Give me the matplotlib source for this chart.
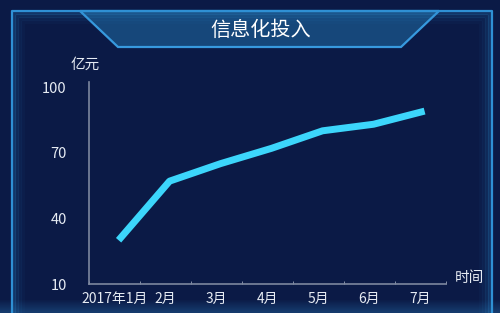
import numpy as np
import matplotlib.pyplot as plt
from matplotlib.patches import Polygon, Rectangle

plt.rcParams['font.family'] = ['Noto Sans CJK SC', 'DejaVu Sans']

# data
months = ['2017年1月', '2月', '3月', '4月', '5月', '6月', '7月']
invest = [30, 57, 65, 72, 80, 83, 89]
y_ticks = [10, 40, 70, 100]

bg = '#0b1a46'
W, H = 500, 313

fig = plt.figure(figsize=(5, 3.13), dpi=100)
fig.patch.set_facecolor(bg)

# decoration layer in pixel coords
deco = fig.add_axes([0, 0, 1, 1])
deco.set_xlim(0, W)
deco.set_ylim(H, 0)
deco.axis('off')

# lighter glow at the bottom
for i, a in enumerate(np.linspace(0.05, 0.5, 12)):
    deco.add_patch(Rectangle((0, 300 + i), W, 1.2, color='#1f5a93', alpha=a, lw=0))
deco.add_patch(Rectangle((0, 312), W, 2, color='#1f5a93', alpha=0.5, lw=0))

# frame with soft inner glow
for k, a in enumerate([0.25, 0.15, 0.08, 0.04]):
    off = 2 + k * 3
    deco.plot([12 + off, 12 + off, 492 - off, 492 - off],
              [H + 5, 11 + off, 11 + off, H + 5],
              color='#2a86c8', lw=3, alpha=a, solid_capstyle='butt')
deco.plot([12, 12, 492, 492], [H + 5, 11, 11, H + 5], color='#2f90d4', lw=1.6)

# title banner
banner = Polygon([(80, 11), (439, 11), (401, 47), (118, 47)], closed=True,
                 facecolor='#174a7e', edgecolor='#3aa0e6', lw=1.6, alpha=0.95)
deco.add_patch(banner)
deco.text(261, 30, '信息化投入', color='white', fontsize=14.5, ha='center', va='center',
          fontweight='medium')

# chart
ax = fig.add_axes([89 / W, 1 - 284 / H, (446 - 89) / W, (284 - 82) / H])
ax.set_facecolor('none')
x = np.arange(len(months))
ax.plot(x + 0.08, invest, color='#3cd6fb', lw=5, solid_joinstyle='round', solid_capstyle='butt')
ax.set_xlim(-0.5, len(months) - 0.5)
ax.set_ylim(10, 102.3)
ax.set_yticks(y_ticks)
ax.set_xticks(x)
ax.set_xticklabels(months)
ax.set_xticks(np.arange(-0.5, len(months)), minor=True)

for s in ['top', 'right']:
    ax.spines[s].set_visible(False)
for s in ['left', 'bottom']:
    ax.spines[s].set_color('#7d879e')
    ax.spines[s].set_linewidth(1.2)

ax.tick_params(axis='y', length=0, pad=16, labelcolor='#e6ebf3', labelsize=10.5)
ax.tick_params(axis='x', which='major', length=0, pad=6, labelcolor='#e6ebf3', labelsize=10)
ax.tick_params(axis='x', which='minor', length=2, direction='in', color='#9aa3b8')
for lab in ax.get_xticklabels() + ax.get_yticklabels():
    lab.set_fontweight('medium')

deco.text(85, 65, '亿元', color='#e6ebf3', fontsize=10.5, ha='center', va='center', fontweight='medium')
deco.text(469, 278, '时间', color='#e6ebf3', fontsize=10.5, ha='center', va='center', fontweight='medium')

fig.savefig('out.png', dpi=100, facecolor=bg)
